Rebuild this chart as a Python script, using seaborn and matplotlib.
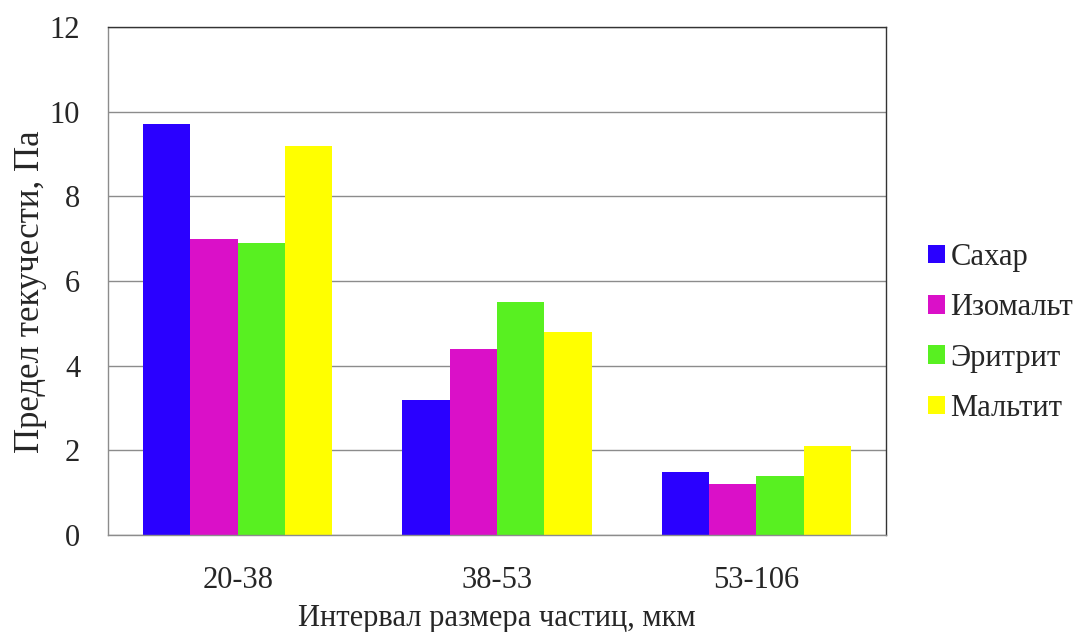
import matplotlib
matplotlib.use("Agg")
import matplotlib.pyplot as plt
import seaborn as sns
import pandas as pd
import numpy as np
from matplotlib.ticker import FixedLocator

# data
intervals = ["20-38", "38-53", "53-106"]
substances = ["Сахар", "Изомальт", "Эритрит", "Мальтит"]
sugar = [9.7, 3.2, 1.5]
isomalt = [7.0, 4.4, 1.2]
erythritol = [6.9, 5.5, 1.4]
maltitol = [9.2, 4.8, 2.1]
colors = ["#2A00FF", "#DA10C8", "#58F021", "#FFFF00"]

df = pd.DataFrame({
    "interval": intervals * 4,
    "substance": np.repeat(substances, 3),
    "value": sugar + isomalt + erythritol + maltitol,
})

sns.set_style("white")
plt.rcParams["font.family"] = ["Liberation Serif", "DejaVu Serif"]

fig = plt.figure(figsize=(10.79, 6.32), dpi=100)
ax = fig.add_axes([108 / 1079, 1 - 535 / 632, (886 - 108) / 1079, (535 - 27) / 632])

sns.barplot(data=df, x="interval", y="value", hue="substance", order=intervals,
            hue_order=substances, palette=colors, width=0.73, gap=0,
            saturation=1, linewidth=0, ax=ax, legend=True)

ax.set_ylim(0, 12)
ax.set_xlim(-0.5, 2.5)
ax.set_yticks(range(0, 13, 2))
ax.yaxis.grid(True, color="#8C8C8C", linewidth=1)
ax.set_axisbelow(True)

# category separators as ticks
ax.xaxis.set_minor_locator(FixedLocator([-0.5, 0.5, 1.5, 2.5]))
ax.tick_params(axis="x", which="major", length=0, labelsize=22, pad=22)
ax.tick_params(axis="x", which="minor", length=8, color="#8C8C8C", width=1)
ax.tick_params(axis="y", length=8, color="#8C8C8C", width=1, labelsize=22, pad=12)

for side in ["left", "bottom"]:
    ax.spines[side].set_color("#8C8C8C")
for side in ["top", "right"]:
    ax.spines[side].set_color("#333333")
for s in ax.spines.values():
    s.set_linewidth(1)

ax.set_xlabel("Интервал размера частиц, мкм", fontsize=22, labelpad=7)
ax.set_ylabel("Предел текучести, Па", fontsize=25)
ax.yaxis.set_label_coords(-0.078, 0.478)

ax.legend(loc="center left", bbox_to_anchor=(1.054, 0.398), frameon=False,
          fontsize=22, handlelength=0.55, handleheight=0.55, handletextpad=0.18,
          labelspacing=0.7, borderaxespad=0, borderpad=0)

fig.savefig("out.png", dpi=100)
